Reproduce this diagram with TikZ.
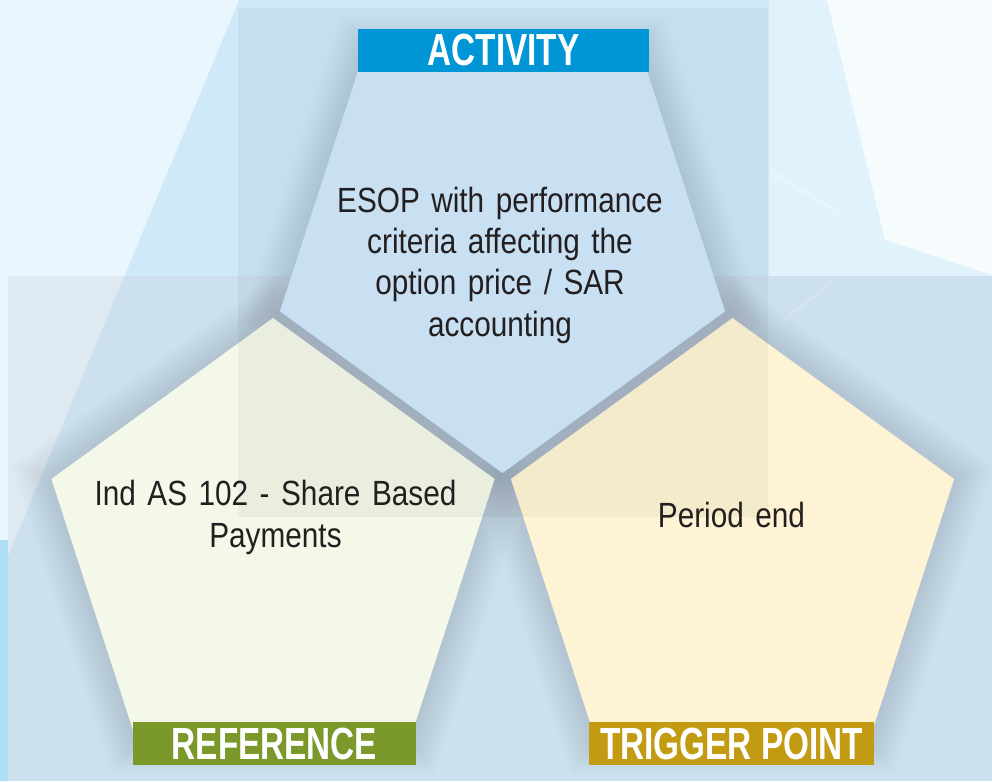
\documentclass[tikz,border=0pt]{standalone}
\usepackage{fontspec}
\setmainfont{Liberation Sans}[FakeStretch=0.85]
\newfontfamily\labelfont{Liberation Sans}[FakeStretch=0.74]
\definecolor{bgblue}{RGB}{207,233,249}
\definecolor{bglight}{RGB}{234,246,253}
\definecolor{bgmid}{RGB}{224,242,252}
\definecolor{bgwhite}{RGB}{246,251,254}
\definecolor{edgeblue}{RGB}{175,222,245}
\definecolor{ovl}{RGB}{200,205,215}
\definecolor{topfill}{RGB}{209,234,252}
\definecolor{leftfill}{RGB}{243,248,233}
\definecolor{rightfill}{RGB}{254,244,213}
\definecolor{actblue}{RGB}{0,150,214}
\definecolor{refgreen}{RGB}{122,153,42}
\definecolor{trigold}{RGB}{195,155,18}
\definecolor{shadowc}{RGB}{120,130,145}
\definecolor{textc}{RGB}{35,31,32}
\newcommand{\pentagonpath}[5]{% cx, cy, R, start angle, style
  \path[#5] ([shift={(#1,#2)}]#4:#3) -- ([shift={(#1,#2)}]#4+72:#3)
    -- ([shift={(#1,#2)}]#4+144:#3) -- ([shift={(#1,#2)}]#4+216:#3)
    -- ([shift={(#1,#2)}]#4+288:#3) -- cycle;}
\newcommand{\bodyfont}{\fontsize{35}{41.3}\selectfont\spaceskip 11.5pt\relax}
\tikzset{
  shadowlayer/.style={fill=shadowc, fill opacity=0.016},
  bodytext/.style={text=textc, align=center, inner sep=0pt, anchor=base,
    font=\bodyfont},
  labelbox/.style={fill=#1, text=white, inner sep=0pt, minimum height=43,
    font=\fontsize{45}{45}\labelfont\bfseries},
}
\begin{document}
\begin{tikzpicture}[x=1pt,y=1pt]
\useasboundingbox (0,0) rectangle (992,-781);
\clip (0,0) rectangle (992,-781);
% background
\fill[bgblue] (0,0) rectangle (992,-781);
\fill[bglight] (0,0) -- (239,0) -- (0,-575) -- cycle;
\fill[bgmid] (769,0) rectangle (992,-276);
\fill[bgwhite] (827,0) -- (992,0) -- (992,-275) -- (885,-240) -- cycle;
\fill[white, opacity=0.25] (885,-240) -- (770,-175) -- (770,-168) -- cycle;
\fill[white, opacity=0.2] (885,-240) -- (780,-320) -- (784,-323) -- cycle;
\fill[edgeblue] (0,-540) rectangle (8,-781);
\fill[ovl, opacity=0.3] (8,-276) rectangle (992,-781);
% shadows
\foreach \k in {1,...,14}{
  \pentagonpath{502.5}{-239}{234+3*\k}{270}{shadowlayer}
  \pentagonpath{273}{-551}{233+3*\k}{90}{shadowlayer}
  \pentagonpath{732.5}{-551}{233+3*\k}{90}{shadowlayer}
}
% pentagons
\pentagonpath{502.5}{-239}{234}{270}{fill=topfill}
\pentagonpath{273}{-551}{233}{90}{fill=leftfill}
\pentagonpath{732.5}{-551}{233}{90}{fill=rightfill}
% translucent overlay
\fill[black, opacity=0.04] (238,-8) rectangle (768,-517);
% labels
\node[labelbox=actblue, minimum width=291] (activity) at (503.5,-50.5) {ACTIVITY};
\node[labelbox=refgreen, minimum width=283] (reference) at (274.5,-743.5) {REFERENCE};
\node[labelbox=trigold, minimum width=285] (trigger) at (731.5,-743.5) {TRIGGER POINT};
% texts (base anchor = last line's baseline)
\node[bodytext] (acttext) at (500,-336) {ESOP with performance\\criteria affecting the\\option price / SAR\\accounting};
\node[bodytext] (reftext) at (275.5,-547) {Ind AS 102 - Share Based\\Payments};
\node[bodytext] (trigtext) at (731.5,-527) {Period end};
\end{tikzpicture}
\end{document}
